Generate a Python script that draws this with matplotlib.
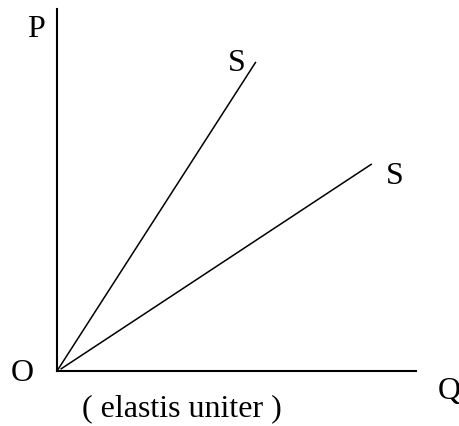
import matplotlib.pyplot as plt

# supply curves, both through the origin
s1_q = [0, 5.54]
s1_p = [0, 8.54]
s2_q = [0.1, 8.77]
s2_p = [0.05, 5.72]

plt.rcParams['font.family'] = ['Liberation Serif', 'DejaVu Serif']

fig = plt.figure(figsize=(4.6, 4.27), dpi=100)
ax = fig.add_axes([57 / 460, 55 / 427, 359 / 460, 362 / 427])
ax.set_xlim(0, 10)
ax.set_ylim(0, 10)

ax.plot(s1_q, s1_p, color='black', lw=1.1, solid_capstyle='butt')
ax.plot(s2_q, s2_p, color='black', lw=1.1, solid_capstyle='butt')

for side in ['top', 'right']:
    ax.spines[side].set_visible(False)
for side in ['left', 'bottom']:
    ax.spines[side].set_linewidth(1.5)
ax.set_xticks([])
ax.set_yticks([])

fs = 23
ax.text(-0.58, 9.45, 'P', fontsize=fs, ha='center', va='center', clip_on=False)
ax.text(-0.97, -0.03, 'O', fontsize=fs, ha='center', va='center', clip_on=False)
ax.text(10.92, -0.55, 'Q', fontsize=fs, ha='center', va='center', clip_on=False)
ax.text(5.01, 8.51, 'S', fontsize=fs, ha='center', va='center')
ax.text(9.41, 5.41, 'S', fontsize=fs, ha='center', va='center', clip_on=False)
ax.text(3.48, -1.02, '( elastis uniter )', fontsize=fs, ha='center', va='center',
        clip_on=False)

fig.savefig('out.png', dpi=100)
